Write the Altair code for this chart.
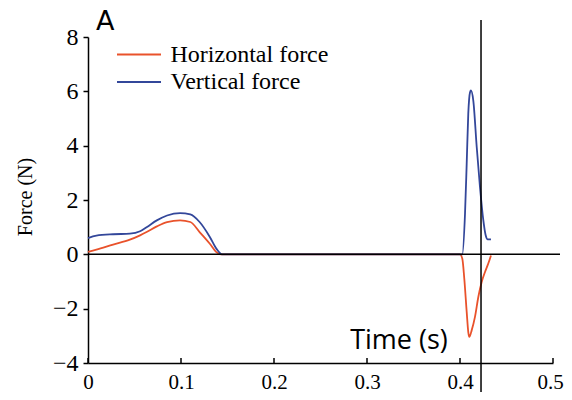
import altair as alt
import pandas as pd

# Horizontal force (red)
h_time = [0, 0.009, 0.027, 0.045, 0.056, 0.063, 0.074, 0.085, 0.099, 0.110, 0.120, 0.131, 0.138, 0.143,
          0.25, 0.400, 0.4025, 0.4046, 0.4072, 0.4089, 0.4100, 0.4126, 0.4161, 0.4197, 0.4233, 0.4269, 0.4304, 0.4333]
h_force = [0.09, 0.17, 0.36, 0.54, 0.70, 0.82, 1.03, 1.19, 1.25, 1.19, 0.82, 0.39, 0.08, 0.0,
           0.0, 0.0, -0.16, -0.89, -2.12, -2.86, -3.04, -2.79, -2.30, -1.57, -1.02, -0.65, -0.34, -0.04]

# Vertical force (blue)
v_time = [0, 0.009, 0.027, 0.045, 0.056, 0.063, 0.074, 0.085, 0.099, 0.110, 0.120, 0.131, 0.138, 0.144,
          0.25, 0.400, 0.4025, 0.4054, 0.4072, 0.4089, 0.4108, 0.4118, 0.4143, 0.4180, 0.4215, 0.4251, 0.4276, 0.4298, 0.4333]
v_force = [0.60, 0.69, 0.74, 0.76, 0.85, 1.00, 1.25, 1.43, 1.52, 1.47, 1.19, 0.64, 0.21, 0.0,
           0.0, 0.0, 0.0, 1.5, 3.34, 5.18, 5.97, 6.03, 5.66, 3.94, 2.47, 1.25, 0.70, 0.55, 0.55]

series_names = ["Horizontal force", "Vertical force"]
series_colors = ["#e9522b", "#33479a"]
x_ticks = [0, 0.1, 0.2, 0.3, 0.4, 0.5]
y_ticks = [-4, -2, 0, 2, 4, 6, 8]
marker_time = 0.4226
y_title = "Force (N)"
x_title = "Time (s)"
panel_label = "A"

SERIF = "Liberation Serif, Times New Roman, serif"
W, H = 465, 326

df = pd.concat([
    pd.DataFrame({"time": h_time, "force": h_force, "series": series_names[0], "order": range(len(h_time))}),
    pd.DataFrame({"time": v_time, "force": v_force, "series": series_names[1], "order": range(len(v_time))}),
])

xscale = alt.Scale(domain=[0, 0.5], nice=False, zero=False)
yscale = alt.Scale(domain=[-4, 8], nice=False)
cscale = alt.Scale(domain=series_names, range=series_colors)

x_axis = alt.Axis(
    values=x_ticks, format=".1~f", ticks=False, labelPadding=8, grid=False, title=None,
    labelFont=SERIF, labelFontSize=21, labelColor="black", labelFlush=False,
    labelOverlap=False, labelBound=False,
    labelOffset=alt.expr("datum.value == 0.5 ? -3 : 0"),
    domainColor="black", domainWidth=1.5)
y_axis = alt.Axis(
    values=y_ticks, tickSize=5, tickColor="black", tickWidth=1.5, labelPadding=5, grid=False,
    labelFont=SERIF, labelFontSize=24, labelColor="black", labelFlush=False, labelOverlap=False,
    domainColor="black", domainWidth=1.5, title=None)

X = lambda f: alt.X(f, scale=xscale, axis=x_axis)
Y = lambda f: alt.Y(f, scale=yscale, axis=y_axis)

lines = alt.Chart(df).mark_line(strokeWidth=1.8, interpolate="monotone").encode(
    x=X("time:Q"), y=Y("force:Q"),
    color=alt.Color("series:N", scale=cscale, legend=None),
    order="order:Q",
)

tick_df = pd.DataFrame({"t": x_ticks})
xticks = alt.Chart(tick_df).mark_rule(color="black", strokeWidth=1.5).encode(
    x=X("t:Q"), y=alt.value(H - 5), y2=alt.value(H))

zero_line = alt.Chart(pd.DataFrame({"v": [0]})).mark_rule(color="black", strokeWidth=1.5).encode(
    y=Y("v:Q"), x=alt.value(0), x2=alt.value(472))

vline = alt.Chart(pd.DataFrame({"t": [marker_time]})).mark_rule(color="black", strokeWidth=1.5).encode(
    x=X("t:Q"), y=alt.value(-17), y2=alt.value(H + 40))

# legend entries (drawn manually, coloured through the same colour scale)
legend_layers = []
for i, name in enumerate(series_names):
    ldf = pd.DataFrame({"series": [name]})
    ly = 17.5 + 27.4 * i
    legend_layers.append(alt.Chart(ldf).mark_rule(strokeWidth=2).encode(
        color=alt.Color("series:N", scale=cscale, legend=None),
        x=alt.value(29), x2=alt.value(73), y=alt.value(ly)))
    legend_layers.append(alt.Chart(ldf).mark_text(
        font=SERIF, fontSize=24, align="left", baseline="middle", color="black").encode(
        text="series:N", x=alt.value(82.5), y=alt.value(ly)))

label_a = alt.Chart(pd.DataFrame({"s": [panel_label]})).mark_text(
    font="DejaVu Sans", fontSize=27, align="left", baseline="top", color="black").encode(
    text="s:N", x=alt.value(8), y=alt.value(-28.5))

label_time = alt.Chart(pd.DataFrame({"s": [x_title]})).mark_text(
    font="Open Sans", fontSize=27, align="center", baseline="alphabetic", color="black").encode(
    text="s:N", x=alt.value(311), y=alt.value(312))

label_force = alt.Chart(pd.DataFrame({"s": [y_title]})).mark_text(
    font=SERIF, fontSize=20, angle=270, align="center", baseline="alphabetic", color="black").encode(
    text="s:N", x=alt.value(-56), y=alt.value(160))

chart = alt.layer(lines, zero_line, vline, xticks, *legend_layers, label_a, label_time, label_force).properties(
    width=W, height=H,
    autosize=alt.AutoSizeParams(type="none"),
    padding={"left": 80, "top": 29, "right": 11, "bottom": 29},
).configure_view(stroke=None).configure_axis(labelFont=SERIF)

chart.save("out.html", embed_options={"renderer": "svg", "actions": False})
